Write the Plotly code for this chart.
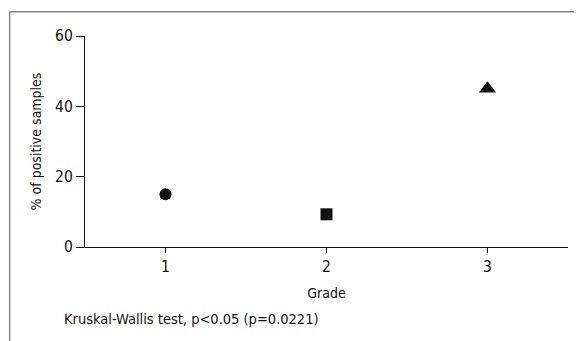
import plotly.graph_objects as go

grades = [1, 2, 3]
positive_pct = [15.0, 9.3, 45.0]
symbols = ["circle", "square", "triangle-up"]
x_ticks = [1, 2, 3]
y_ticks = [0, 20, 40, 60]

FONT = "DejaVu Sans Condensed, Liberation Sans Narrow, sans-serif"
INK = "#111111"

fig = go.Figure()
fig.add_trace(go.Scatter(
    x=grades, y=positive_pct, mode="markers",
    marker=dict(symbol=symbols, size=[12, 12, 15], color=INK, opacity=1, line=dict(width=0)),
    showlegend=False, cliponaxis=False,
))

# the page body adds an 8px offset, margins compensate for it
fig.update_layout(
    width=582, height=341,
    margin=dict(l=77, r=22, t=28, b=102, autoexpand=False),
    paper_bgcolor="white", plot_bgcolor="white",
    font=dict(family=FONT, size=14, color=INK),
    xaxis=dict(range=[0.5, 3.5], tickvals=x_ticks, ticks="outside", ticklen=5,
               tickcolor=INK, showline=True, linecolor=INK, linewidth=1.2,
               tickfont=dict(size=15.5),
               showgrid=False, zeroline=False, automargin=False,
               title=dict(text="Grade", font=dict(size=14), standoff=13)),
    yaxis=dict(range=[0, 60], tickvals=y_ticks, ticks="outside", ticklen=8,
               tickcolor=INK, showline=True, linecolor=INK, linewidth=1.2,
               tickfont=dict(size=15.5),
               showgrid=False, zeroline=False, automargin=False,
               title=dict(text="% of positive samples", font=dict(size=14), standoff=10)),
)

fig.add_annotation(text="Kruskal-Wallis test, p<0.05 (p=0.0221)", xref="paper", yref="paper",
                   x=-0.048, y=-0.341, xanchor="left", yanchor="middle", showarrow=False,
                   font=dict(size=14.5, color=INK))

# frame border (cropped box)
fig.add_shape(type="line", xref="paper", yref="paper", x0=-0.156, x1=1.2, y0=1.115, y1=1.115,
              line=dict(color="#888888", width=1.5))
fig.add_shape(type="line", xref="paper", yref="paper", x0=-0.156, x1=-0.156, y0=1.115, y1=-0.6,
              line=dict(color="#888888", width=1.5))

fig.write_html("out.html")
